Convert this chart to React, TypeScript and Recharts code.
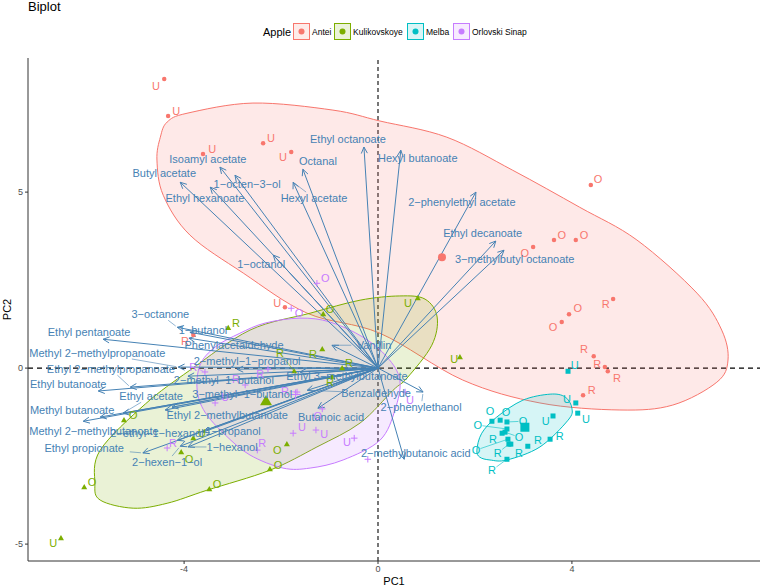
import React from 'react';
import { ReferenceLine, Scatter, ScatterChart, XAxis, YAxis } from 'recharts';

const FONT = '"Liberation Sans", Arial, Helvetica, sans-serif';
const ARROW = '#4682B4';

const groups = ['Antei', 'Kulikovskoye', 'Melba', 'Orlovski Sinap'];
const groupColors = ['#F8766D', '#7CAE00', '#00BFC4', '#C77CFF'];

// scores: [PC1, PC2, treatment, label PC1, label PC2]
const anteiScores: [number, number, string, number, number][] = [
  [-4.41, 8.21, 'U', -4.58, 8.01],
  [-4.33, 7.16, 'U', -4.16, 7.3],
  [-3.61, 6.08, 'U', -3.42, 6.22],
  [-2.37, 6.39, 'U', -2.21, 6.53],
  [-1.79, 6.14, 'U', -1.96, 5.99],
  [-1.92, 1.73, 'U', -2.08, 1.85],
  [-3.81, 0.94, 'R', -3.98, 0.77],
  [4.39, 5.2, 'O', 4.54, 5.37],
  [3.63, 3.64, 'O', 3.79, 3.78],
  [4.08, 3.64, 'O', 4.25, 3.78],
  [3.2, 3.44, 'O', 3.03, 3.27],
  [4.85, 1.96, 'R', 4.7, 1.82],
  [3.94, 1.53, 'O', 4.12, 1.7],
  [3.79, 1.31, 'O', 3.61, 1.16],
  [4.45, 0.34, 'R', 4.25, 0.54],
  [4.68, 0.03, 'R', 4.52, 0.11],
  [4.74, -0.09, 'R', 4.93, -0.28],
  [4.23, -0.77, 'R', 4.41, -0.63],
];

const kulikovskoyeScores: [number, number, string, number, number][] = [
  [-3.09, 1.14, 'R', -2.93, 1.28],
  [-1.73, -0.09, 'R', -2.02, 0.43],
  [-1.15, 0.54, 'R', -1.34, 0.4],
  [-0.74, 0.0, 'R', -0.6, 0.14],
  [-0.95, -0.25, 'R', -0.99, -0.4],
  [-1.13, 1.53, 'O', -0.99, 1.68],
  [0.82, 1.99, 'U', 0.62, 1.85],
  [1.69, 0.31, 'U', 1.57, 0.26],
  [-5.24, -1.48, 'O', -5.05, -1.34],
  [-3.81, -1.99, 'U', -3.63, -1.85],
  [-4.06, -2.39, 'O', -3.9, -2.59],
  [-6.06, -3.38, 'O', -5.9, -3.24],
  [-3.48, -3.44, 'O', -3.32, -3.3],
  [-6.54, -4.83, 'U', -6.7, -4.97],
  [-2.23, -2.87, 'O', -2.06, -2.76],
  [-1.88, -2.16, 'O', -2.08, -2.33],
];

const melbaScores: [number, number, string, number, number][] = [
  [3.92, -0.09, 'U', 4.06, 0.09],
  [4.08, -0.99, 'U', 3.9, -0.88],
  [4.12, -1.28, 'U', 4.29, -1.45],
  [3.61, -1.36, 'U', 3.46, -1.51],
  [2.35, -1.51, 'O', 2.31, -1.22],
  [2.52, -1.48, 'O', 2.64, -1.25],
  [2.66, -1.53, 'O', 2.99, -1.51],
  [2.66, -1.73, 'O', 2.06, -1.62],
  [2.62, -1.82, 'O', 2.91, -1.96],
  [2.56, -1.85, 'R', 2.37, -2.02],
  [2.68, -2.02, 'O', 2.02, -2.33],
  [2.7, -2.16, 'R', 2.47, -2.41],
  [2.74, -2.16, 'R', 2.91, -2.41],
  [3.09, -2.22, 'R', 3.3, -2.05],
  [3.55, -2.02, 'R', 3.75, -1.93],
  [2.66, -2.59, 'R', 2.35, -2.9],
];

const orlovskiScores: [number, number, string, number, number][] = [
  [-1.26, 2.41, 'O', -1.09, 2.56],
  [-1.79, 1.7, 'O', -1.63, 1.56],
  [-2.27, -0.03, 'R', -2.43, -0.17],
  [-2.74, -0.48, 'R', -2.93, -0.31],
  [-3.57, -0.11, 'R', -3.81, 0.03],
  [-1.67, -0.68, 'R', -1.92, -0.65],
  [-3.36, -0.99, 'U', -3.15, -0.82],
  [-1.15, -1.16, 'O', -1.24, -1.36],
  [-1.75, -1.85, 'U', -1.57, -1.68],
  [-1.28, -1.76, 'U', -1.11, -1.88],
  [-0.49, -1.99, 'U', -0.64, -2.1],
  [0.56, -0.68, 'U', 0.66, -0.91],
  [-4.35, -2.27, 'R', -4.23, -2.13],
  [-2.49, -2.33, 'R', -2.39, -2.13],
  [-0.21, -2.59, '', -0.21, -2.59],
];

// group centroids (bigger symbols)
const centroids: [number, number][] = [
  [1.32, 3.15],
  [-2.31, -0.94],
  [3.03, -1.68],
  [-1.7, -0.75],
];

// confidence ellipse outlines
const anteiEllipse = [
  [-2.58, 7.53], [-0.93, 7.33], [0.04, 7.02], [1.42, 6.56], [2.78, 5.62], [4.16, 4.57],
  [5.34, 3.64], [6.58, 2.13], [7.09, 1.08], [7.22, 0.23], [6.99, -0.4], [6.08, -1.05],
  [4.99, -1.19], [3.34, -0.99], [1.75, -0.34], [0.04, 0.99], [-1.46, 1.56], [-2.78, 2.7],
  [-3.88, 3.78], [-4.43, 4.91], [-4.56, 5.91], [-4.49, 6.56], [-4.35, 6.99], [-3.94, 7.24],
];
const kulikovskoyeEllipse = [
  [0.45, 2.05], [0.97, 1.96], [1.22, 1.45], [1.11, 0.65], [0.6, -0.28], [0.31, -0.63],
  [-0.37, -1.56], [-1.26, -2.24], [-2.23, -2.9], [-3.53, -3.47], [-4.35, -3.84], [-5.05, -3.98],
  [-5.73, -3.75], [-5.84, -3.27], [-5.73, -2.33], [-4.8, -1.02], [-3.88, -0.06], [-2.64, 1.08],
  [-1.4, 1.56], [-0.37, 1.93],
];
const melbaEllipse = [
  [2.04, -2.33], [2.14, -1.85], [2.45, -1.39], [2.99, -0.91], [3.55, -0.74], [3.86, -0.82],
  [4.0, -1.14], [3.92, -1.48], [3.34, -2.24], [2.66, -2.61], [2.31, -2.61], [2.1, -2.53],
];
const orlovskiEllipse = [
  [-1.61, 1.42], [-0.99, 1.31], [-0.31, 0.88], [0.19, 0.31], [0.45, -0.34], [0.35, -1.19],
  [0.04, -2.05], [-0.72, -2.61], [-1.4, -2.84], [-1.96, -2.84], [-2.64, -2.47], [-3.15, -1.9],
  [-3.57, -1.25], [-3.73, -0.63], [-3.67, 0.09], [-3.36, 0.6], [-2.85, 0.99], [-2.33, 1.28],
];

// loadings: [variable, PC1, PC2, label PC1, label PC2]
const loadings: [string, number, number, number, number][] = [
  ['Butyl acetate', -4.08, 5.28, -4.41, 5.54],
  ['Ethyl hexanoate', -3.46, 5.14, -3.57, 4.83],
  ['Isoamyl acetate', -3.26, 5.71, -3.51, 5.94],
  ['1\u2212octen\u22123\u2212ol', -2.95, 5.48, -2.7, 5.23],
  ['Octanal', -1.55, 5.65, -1.24, 5.88],
  ['Hexyl acetate', -1.75, 5.28, -1.32, 4.83],
  ['Ethyl octanoate', -0.29, 6.28, -0.62, 6.51],
  ['Hexyl butanoate', 0.47, 6.19, 0.82, 5.97],
  ['2\u2212phenylethyl acetate', 2.02, 5.0, 1.73, 4.72],
  ['Ethyl decanoate', 2.43, 3.61, 2.16, 3.84],
  ['3\u2212methylbutyl octanoate', 2.6, 3.35, 2.82, 3.1],
  ['1\u2212octanol', -2.16, 3.21, -2.41, 2.95],
  ['3\u2212octanone', -4.14, 1.16, -4.49, 1.53],
  ['1\u2212butanol', -3.88, 1.02, -3.61, 1.08],
  ['Ethyl pentanoate', -5.67, 0.82, -5.96, 1.02],
  ['Phenylacetaldehyde', -3.9, 0.85, -2.97, 0.65],
  ['Methyl 2\u2212methylpropanoate', -4.12, 0.03, -5.79, 0.43],
  ['Ethyl 2\u2212methylpropanoate', -5.11, -0.54, -5.51, -0.03],
  ['2\u2212methyl\u22121\u2212propanol', -2.91, -0.03, -2.7, 0.2],
  ['Ethyl butanoate', -5.77, -0.65, -6.39, -0.45],
  ['2\u2212methyl\u22121\u2212butanol', -3.92, -0.23, -3.18, -0.34],
  ['Ethyl acetate', -5.26, -1.28, -4.68, -0.8],
  ['3\u2212methyl\u22121\u2212butanol', -4.25, -1.11, -2.8, -0.74],
  ['Methyl butanoate', -5.73, -1.39, -6.31, -1.19],
  ['Ethyl 2\u2212methylbutanoate', -4.39, -1.19, -3.11, -1.34],
  ['Methyl 2\u2212methylbutanoate', -6.08, -1.51, -5.86, -1.79],
  ['2\u2212ethyl\u22121\u2212hexanol', -4.14, -2.05, -4.56, -1.85],
  ['1\u2212propanol', -3.61, -1.82, -2.99, -1.79],
  ['1\u2212hexanol', -3.92, -2.24, -3.01, -2.24],
  ['Ethyl propionate', -4.85, -2.41, -6.06, -2.27],
  ['2\u2212hexen\u22121\u2212ol', -4.08, -2.22, -4.35, -2.67],
  ['Vanillin', -0.95, 0.65, -0.08, 0.65],
  ['Ethyl 3\u2212methylbutanoate', -1.61, -0.11, -0.64, -0.23],
  ['Benzaldehyde', -1.46, -0.63, -0.04, -0.71],
  ['2\u2212phenylethanol', 0.93, -0.68, 0.89, -1.11],
  ['Butanoic acid', -1.24, -1.14, -0.97, -1.39],
  ['2\u2212methylbutanoic acid', 0.54, -2.59, 0.78, -2.41],
];

const xTicks = [-4, 0, 4];
const yTicks = [-5, 0, 5];

const ellipses = [anteiEllipse, kulikovskoyeEllipse, melbaEllipse, orlovskiEllipse];
const scoreSets = [anteiScores, kulikovskoyeScores, melbaScores, orlovskiScores];

type Pt = { x: number; y: number };

function closedPath(pts: Pt[]) {
  const n = pts.length;
  let d = `M${pts[0].x},${pts[0].y}`;
  for (let i = 0; i < n; i++) {
    const p0 = pts[(i - 1 + n) % n];
    const p1 = pts[i];
    const p2 = pts[(i + 1) % n];
    const p3 = pts[(i + 2) % n];
    d += ` C${p1.x + (p2.x - p0.x) / 6},${p1.y + (p2.y - p0.y) / 6} ${p2.x - (p3.x - p1.x) / 6},${p2.y - (p3.y - p1.y) / 6} ${p2.x},${p2.y}`;
  }
  return d + 'Z';
}

// ggrepel-like leader from the edge of a label box to its target
function leader(label: Pt, target: Pt, hw: number, hh: number, color: string, key?: string) {
  const dx = target.x - label.x;
  const dy = target.y - label.y;
  if (dx === 0 && dy === 0) return null;
  const t = Math.min(dx !== 0 ? hw / Math.abs(dx) : Infinity, dy !== 0 ? hh / Math.abs(dy) : Infinity);
  if (t >= 1) return null;
  const sx = label.x + dx * t;
  const sy = label.y + dy * t;
  const len = Math.hypot(target.x - sx, target.y - sy);
  if (len < 7) return null;
  const ex = target.x - ((target.x - sx) / len) * 2;
  const ey = target.y - ((target.y - sy) / len) * 2;
  return <line key={key} x1={sx} y1={sy} x2={ex} y2={ey} stroke={color} strokeWidth={0.6} />;
}

const ellipseLine = (color: string) => (props: any) => (
  <path d={closedPath(props.points)} fill={color} fillOpacity={0.16} stroke={color} strokeWidth={1} />
);

const arrowLine = (name: string) => (props: any) => {
  const [a, b, lab] = props.points;
  const ang = Math.atan2(b.y - a.y, b.x - a.x);
  const len = 7;
  const spread = 0.45;
  const l = `${b.x - len * Math.cos(ang - spread)},${b.y - len * Math.sin(ang - spread)}`;
  const r = `${b.x - len * Math.cos(ang + spread)},${b.y - len * Math.sin(ang + spread)}`;
  return (
    <g>
      <line x1={a.x} y1={a.y} x2={b.x} y2={b.y} stroke={ARROW} strokeWidth={1} />
      <polyline points={`${l} ${b.x},${b.y} ${r}`} fill="none" stroke={ARROW} strokeWidth={1} />
      {leader(lab, b, name.length * 2.85, 6, ARROW)}
    </g>
  );
};

const pairLeaders = (color: string) => (props: any) => {
  const pts: Pt[] = props.points;
  const out: React.ReactNode[] = [];
  for (let i = 0; i + 1 < pts.length; i += 2) {
    out.push(leader(pts[i + 1], pts[i], 4.5, 5.5, color, `s${i}`));
  }
  return <g>{out}</g>;
};

const noShape = () => <g />;

const markerShape = (group: number, size: number) => (p: any) => {
  const c = groupColors[group];
  const { cx, cy } = p;
  if (group === 0) return <circle cx={cx} cy={cy} r={size / 2} fill={c} />;
  if (group === 1) {
    const h = size * 0.87;
    return <polygon points={`${cx},${cy - h * 0.6} ${cx - size / 2},${cy + h * 0.4} ${cx + size / 2},${cy + h * 0.4}`} fill={c} />;
  }
  if (group === 2) return <rect x={cx - size / 2} y={cy - size / 2} width={size} height={size} fill={c} />;
  return (
    <path d={`M${cx - size / 2},${cy}H${cx + size / 2}M${cx},${cy - size / 2}V${cy + size / 2}`} stroke={c} strokeWidth={1} />
  );
};

const textShape = (color: string, size: number) => (p: any) => (
  <text
    x={p.cx}
    y={p.cy}
    textAnchor="middle"
    dominantBaseline="central"
    fontSize={size}
    fontFamily={FONT}
    fill={color}
  >
    {p.payload.text}
  </text>
);

const legendBoxX = [293, 334, 407, 453];

const Header = () => (
  <svg width={761} height={50} style={{ position: 'absolute', left: 0, top: 0 }}>
    <text x={28} y={11} fontSize={13} fontFamily={FONT} fill="#000">
      Biplot
    </text>
    <text x={263} y={36} fontSize={11} fontFamily={FONT} fill="#000">
      Apple
    </text>
    {groups.map((g, i) => (
      <g key={g}>
        <rect
          x={legendBoxX[i] + 0.5}
          y={23.5}
          width={16}
          height={16}
          fill={groupColors[i]}
          fillOpacity={0.15}
          stroke={groupColors[i]}
          strokeWidth={1}
        />
        <circle cx={legendBoxX[i] + 8.5} cy={31.5} r={3} fill={groupColors[i]} />
        <text x={legendBoxX[i] + 19} y={34.5} fontSize={8.5} fontFamily={FONT} fill="#000">
          {g}
        </text>
      </g>
    ))}
  </svg>
);

export default function App() {
  return (
    <div
      style={{
        position: 'absolute',
        left: 0,
        top: 0,
        width: 761,
        height: 586,
        background: '#fff',
        fontFamily: FONT,
      }}
    >
      <ScatterChart width={761} height={586} margin={{ top: 58, right: 1, bottom: 0, left: 0 }}>
        <XAxis
          type="number"
          dataKey="x"
          domain={[-7.22, 7.88]}
          ticks={xTicks}
          allowDataOverflow
          height={25}
          tickSize={3}
          tick={{ fontSize: 9, fill: '#4D4D4D', fontFamily: FONT }}
          axisLine={{ stroke: '#333', strokeWidth: 1 }}
          tickLine={{ stroke: '#333' }}
          label={{ value: 'PC1', position: 'insideBottom', offset: 1, fontSize: 11, fill: '#000', fontFamily: FONT }}
        />
        <YAxis
          type="number"
          dataKey="y"
          domain={[-5.48, 8.81]}
          ticks={yTicks}
          allowDataOverflow
          width={28}
          tickSize={3}
          tick={{ fontSize: 9, fill: '#4D4D4D', fontFamily: FONT }}
          axisLine={{ stroke: '#333', strokeWidth: 1 }}
          tickLine={{ stroke: '#333' }}
          label={(props: any) => {
            const vb = props.viewBox || { x: 0, y: 58, width: 28, height: 503 };
            const cy = vb.y + vb.height / 2;
            return (
              <text
                x={7}
                y={cy}
                transform={`rotate(-90 7 ${cy})`}
                textAnchor="middle"
                dominantBaseline="central"
                fontSize={11}
                fontFamily={FONT}
                fill="#000"
              >
                PC2
              </text>
            );
          }}
        />
        {ellipses.map((pts, i) => (
          <Scatter
            key={`ell-${i}`}
            data={pts.map(([x, y]) => ({ x, y }))}
            line={ellipseLine(groupColors[i])}
            shape={noShape}
            isAnimationActive={false}
          />
        ))}
        <ReferenceLine x={0} stroke="#555" strokeWidth={1.6} strokeDasharray="4 3" />
        <ReferenceLine y={0} stroke="#000" strokeWidth={1.1} strokeDasharray="5 4" />
        {loadings.map(([name, x, y, lx, ly]) => (
          <Scatter
            key={`arrow-${name}`}
            data={[
              { x: 0, y: 0 },
              { x, y },
              { x: lx, y: ly },
            ]}
            line={arrowLine(name)}
            shape={noShape}
            isAnimationActive={false}
          />
        ))}
        {scoreSets.map((set, i) => (
          <Scatter
            key={`seg-${i}`}
            data={set.flatMap(([x, y, , lx, ly]) => [
              { x, y },
              { x: lx, y: ly },
            ])}
            line={pairLeaders(groupColors[i])}
            shape={noShape}
            isAnimationActive={false}
          />
        ))}
        {scoreSets.map((set, i) => (
          <Scatter
            key={`pts-${i}`}
            data={set.map(([x, y]) => ({ x, y }))}
            shape={markerShape(i, i === 0 ? 4.5 : i === 1 ? 6 : i === 2 ? 5 : 6.5)}
            isAnimationActive={false}
          />
        ))}
        {centroids.map(([x, y], i) => (
          <Scatter
            key={`cen-${i}`}
            data={[{ x, y }]}
            shape={markerShape(i, i === 0 ? 8 : i === 1 ? 12 : i === 2 ? 9 : 10)}
            isAnimationActive={false}
          />
        ))}
        {scoreSets.map((set, i) => (
          <Scatter
            key={`lab-${i}`}
            data={set.map(([, , text, lx, ly]) => ({ x: lx, y: ly, text }))}
            shape={textShape(groupColors[i], 11)}
            isAnimationActive={false}
          />
        ))}
        <Scatter
          data={loadings.map(([text, , , lx, ly]) => ({ x: lx, y: ly, text }))}
          shape={textShape(ARROW, 11)}
          isAnimationActive={false}
        />
      </ScatterChart>
      <Header />
    </div>
  );
}
